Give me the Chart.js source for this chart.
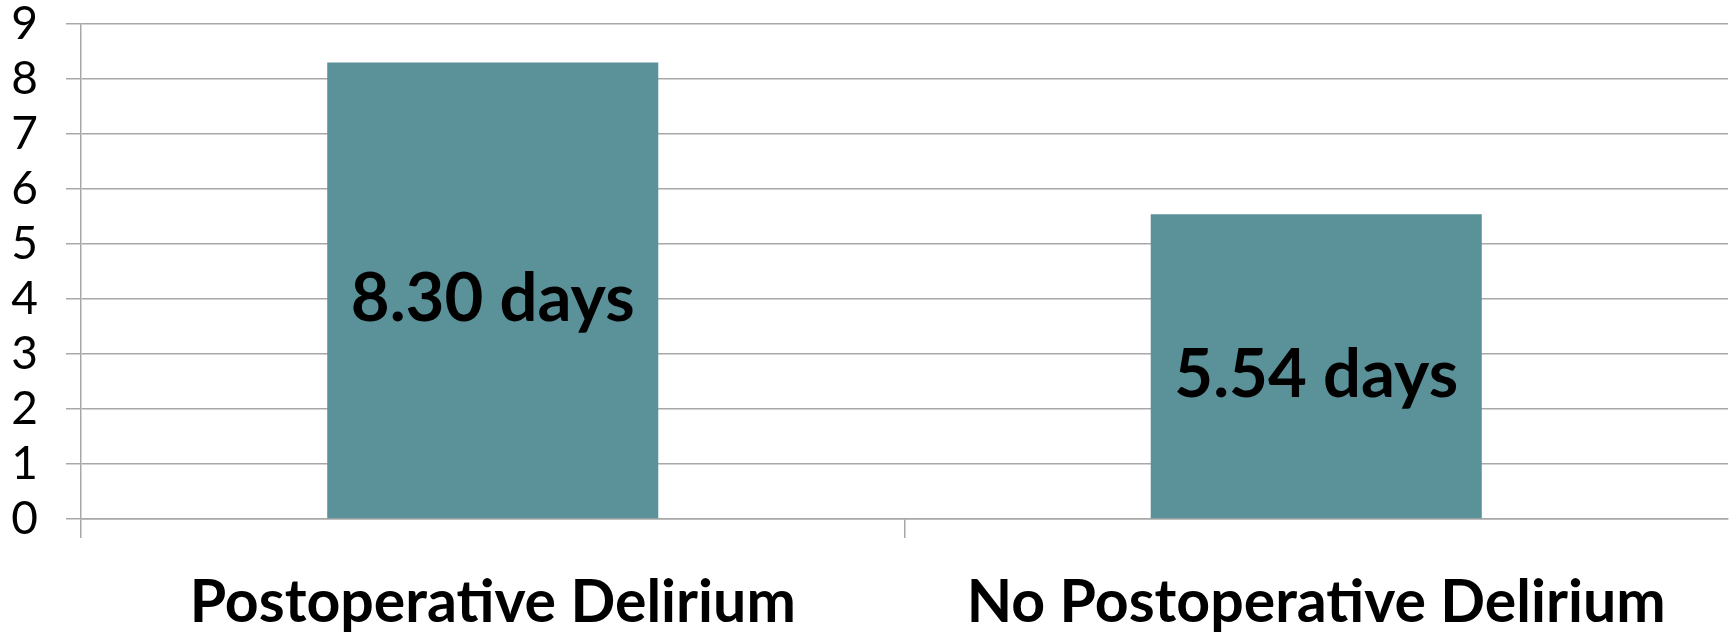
<!DOCTYPE html>
<html>
<head>
<meta charset="utf-8">
<script src="https://cdn.jsdelivr.net/npm/chart.js@4/dist/chart.umd.min.js"></script>
<style>
  html, body { margin: 0; padding: 0; background: #ffffff; }
  #wrap { width: 1733px; height: 632px; }
</style>
</head>
<body>
<div id="wrap"><canvas id="chart" width="1733" height="632"></canvas></div>
<script>
// Mean length of hospital stay by delirium status
const categories = ['Postoperative Delirium', 'No Postoperative Delirium'];
const stayDays = [8.30, 5.54];
const valueUnit = 'days';
const yTicks = [0, 1, 2, 3, 4, 5, 6, 7, 8, 9];

const BAR_COLOR = '#5B9199';
const GRID_COLOR = '#A8A8A8';

// Writes each bar's value in the middle of the bar
const centerValueLabels = {
  id: 'centerValueLabels',
  afterDatasetsDraw(chart) {
    const ctx = chart.ctx;
    chart.data.datasets.forEach((ds, di) => {
      const meta = chart.getDatasetMeta(di);
      meta.data.forEach((bar, i) => {
        const v = ds.data[i];
        ctx.save();
        ctx.font = 'bold 67px Lato';
        ctx.fillStyle = '#000000';
        ctx.textAlign = 'center';
        ctx.textBaseline = 'middle';
        // Lato's em-box middle sits above the visual glyph centre
        ctx.fillText(v.toFixed(2) + ' ' + valueUnit, bar.x, (bar.y + bar.base) / 2 + 9);
        ctx.restore();
      });
    });
  }
};

new Chart(document.getElementById('chart'), {
  type: 'bar',
  data: {
    labels: categories,
    datasets: [{
      data: stayDays,
      backgroundColor: BAR_COLOR,
      borderWidth: 0,
      barPercentage: 0.402,
      categoryPercentage: 1.0
    }]
  },
  options: {
    responsive: false,
    animation: false,
    layout: { padding: { top: 24, right: 5, bottom: 0, left: 0 } },
    plugins: {
      legend: { display: false },
      tooltip: { enabled: false }
    },
    scales: {
      x: {
        offset: true,
        afterFit: (axis) => { axis.height = 113; axis.paddingLeft = 0; axis.paddingRight = 0; },
        grid: {
          offset: true,
          drawOnChartArea: false,
          drawTicks: true,
          tickLength: 19,
          lineWidth: 1.5,
          color: (c) => (c.index === undefined ? 'rgba(0,0,0,0)' : GRID_COLOR)
        },
        border: { display: true, color: GRID_COLOR, width: 1.5 },
        ticks: {
          color: '#000000',
          padding: 30,
          font: { family: 'Lato', size: 59, weight: 'bold', lineHeight: 1.2 },
          maxRotation: 0,
          autoSkip: false
        }
      },
      y: {
        min: yTicks[0],
        max: yTicks[yTicks.length - 1],
        afterBuildTicks: (axis) => { axis.ticks = yTicks.map(v => ({ value: v })); },
        afterFit: (axis) => { axis.width = 81; axis.paddingTop = 0; axis.paddingBottom = 0; },
        grid: {
          color: GRID_COLOR,
          lineWidth: 1.5,
          drawTicks: true,
          tickLength: 15
        },
        border: { display: true, color: GRID_COLOR, width: 1.5 },
        ticks: {
          color: '#000000',
          padding: 28,
          font: { family: 'Lato', size: 46, weight: 'normal', lineHeight: 1.0 }
        }
      }
    }
  },
  plugins: [centerValueLabels]
});
</script>
</body>
</html>
